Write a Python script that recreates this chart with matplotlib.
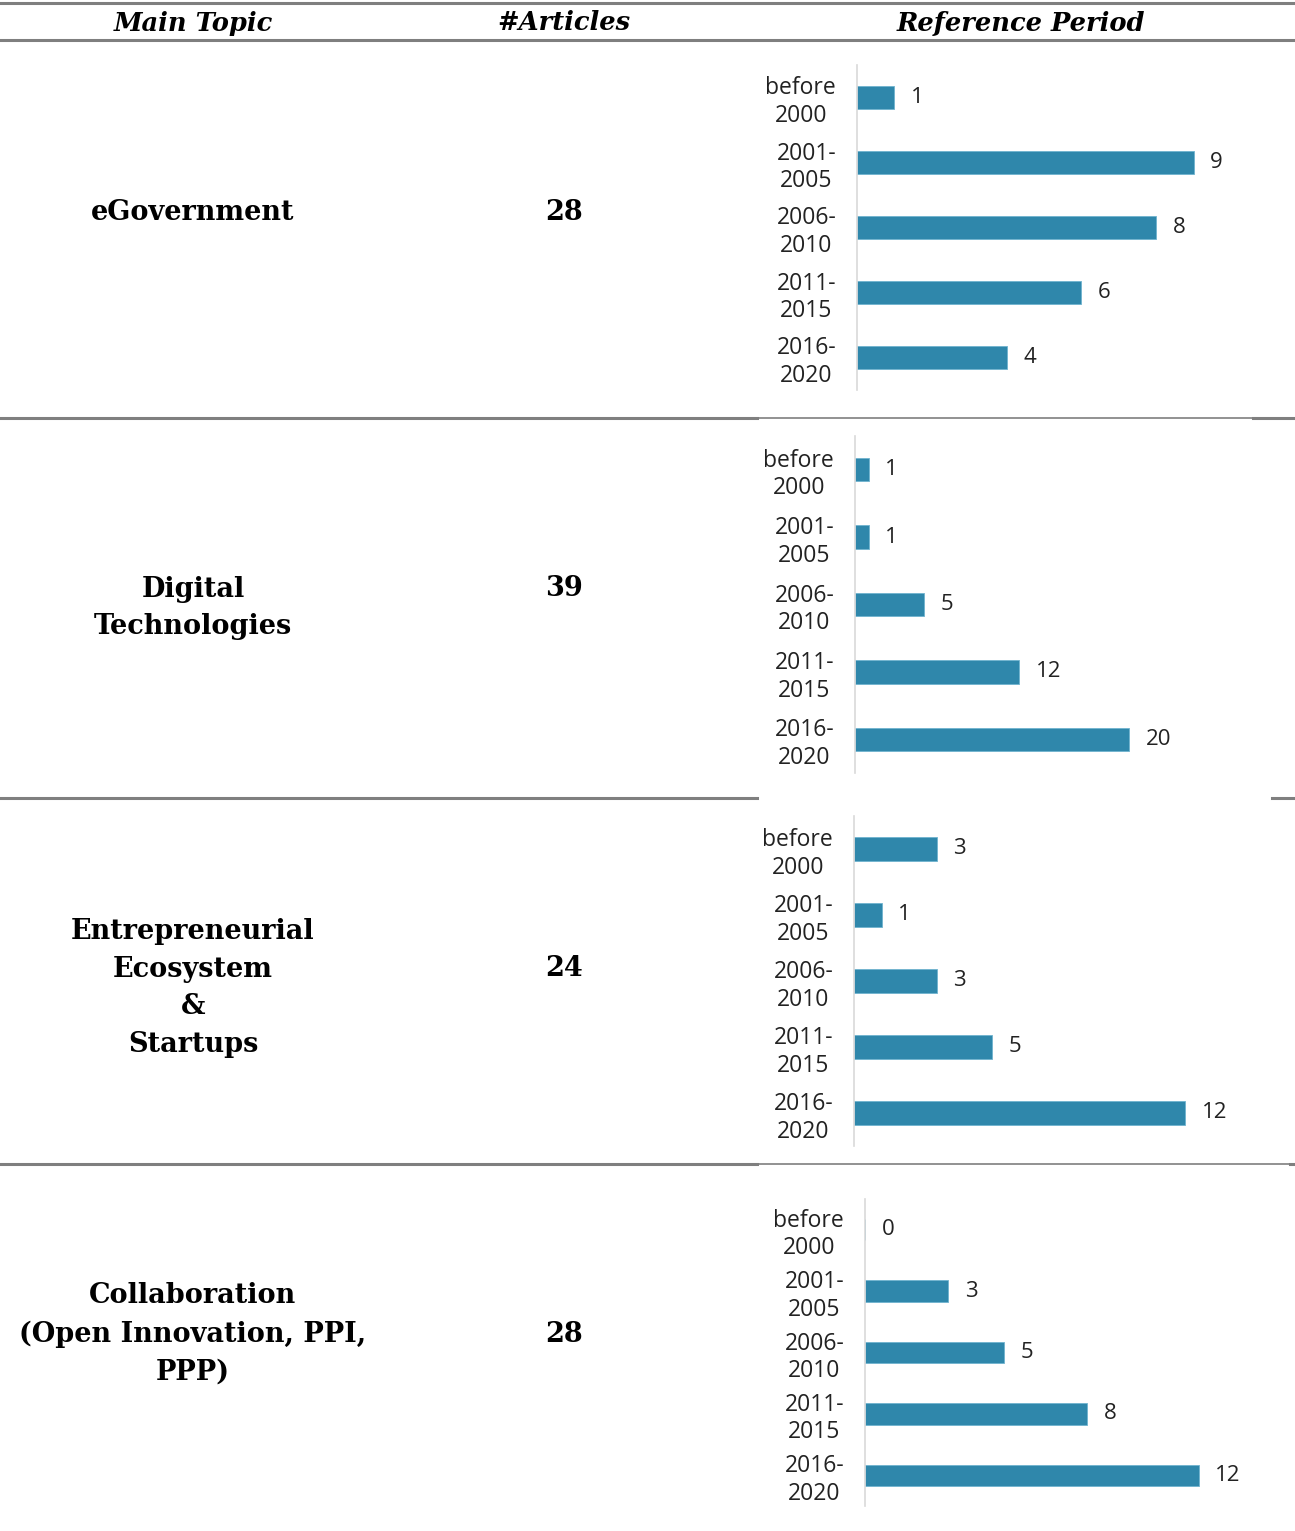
import matplotlib.pyplot as plt

# Table content
periods = ["before\n2000", "2001-\n2005", "2006-\n2010", "2011-\n2015", "2016-\n2020"]
topics = [
    "eGovernment",
    "Digital\nTechnologies",
    "Entrepreneurial\nEcosystem\n&\nStartups",
    "Collaboration\n(Open Innovation, PPI,\nPPP)",
]
n_articles = [28, 39, 24, 28]
egov_counts = [1, 9, 8, 6, 4]
digital_counts = [1, 1, 5, 12, 20]
entre_counts = [3, 1, 3, 5, 12]
collab_counts = [0, 3, 5, 8, 12]
all_counts = [egov_counts, digital_counts, entre_counts, collab_counts]

W, H = 1295, 1531
fig = plt.figure(figsize=(W / 100, H / 100), dpi=100)

BAR_COLOR = "#2f87ab"
RULE = "#7f7f7f"
serif = "DejaVu Serif"
sans = "Open Sans"


def fx(x):
    return x / W


def fy(y):
    return 1 - y / H


def hline(y, x0, x1, lw):
    fig.add_artist(plt.Line2D([fx(x0), fx(x1)], [fy(y), fy(y)], color=RULE, lw=lw))


# header
hline(3, 0, W, 2.2)
hline(40, 0, W, 2.2)
for label, x in [("Main Topic", 193), ("#Articles", 564), ("Reference Period", 1021)]:
    fig.text(fx(x), fy(23), label, ha="center", va="center", family=serif,
             weight="bold", style="italic", fontsize=18.5)

# row separators: thick on the text columns, thinner/absent under the charts
hline(418, 0, 757, 2.2)
hline(418, 757, 1253, 1.2)
hline(418, 1253, W, 2.2)
hline(798, 0, 757, 2.2)
hline(798, 1272, W, 2.2)
hline(1164, 0, 757, 2.2)
hline(1164, 757, 1290, 1.2)
hline(1164, 1290, W, 2.2)

# topic names and counts
topic_y = [212, 608, 988, 1334]
count_y = [212, 589, 968, 1334]
for name, n, ty, cy in zip(topics, n_articles, topic_y, count_y):
    fig.text(fx(193), fy(ty), name, ha="center", va="center", family=serif,
             weight="bold", fontsize=19.5, linespacing=1.52)
    fig.text(fx(564), fy(cy), str(n), ha="center", va="center", family=serif,
             weight="bold", fontsize=19.5)

# small bar charts: (left, top, bottom, px per article)
boxes = [(857, 65, 390, 37.4), (855, 436, 773, 13.7),
         (854, 816, 1146, 27.6), (865, 1199, 1506, 27.8)]
width_px = 400
for counts, (left, top, bottom, unit) in zip(all_counts, boxes):
    ax = fig.add_axes([fx(left), fy(bottom), width_px / W, (bottom - top) / H])
    y = list(range(len(periods)))
    ax.barh(y, counts, height=0.35, color=BAR_COLOR, edgecolor="#6fb3cf", linewidth=0.6)
    ax.set_xlim(0, width_px / unit)
    ax.set_ylim(len(periods) - 0.5, -0.5)
    ax.set_yticks(y)
    ax.set_yticklabels(periods, family=sans, fontsize=16.5, linespacing=1.2,
                       multialignment="center", color="#222222")
    ax.tick_params(axis="y", length=0, pad=15)
    ax.set_xticks([])
    for s in ["top", "right", "bottom"]:
        ax.spines[s].set_visible(False)
    ax.spines["left"].set_color("#d9d9d9")
    ax.spines["left"].set_linewidth(1.2)
    for yi, v in zip(y, counts):
        ax.annotate(str(v), (v, yi), xytext=(12, 0), textcoords="offset points",
                    ha="left", va="center", family=sans, fontsize=16, color="#222222")

fig.savefig("out.png", dpi=100)
